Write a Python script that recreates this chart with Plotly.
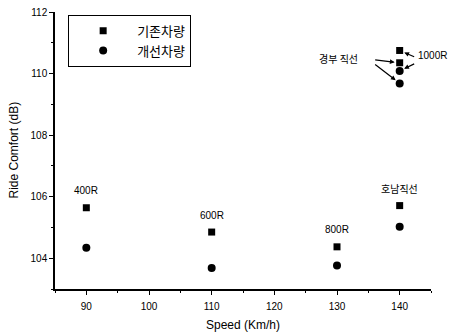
import plotly.graph_objects as go

speed = [90, 110, 130, 140, 140]
existing = [105.64, 104.85, 104.37, 105.71, 110.75]
improved = [104.34, 103.68, 103.76, 105.02, 110.08]
extra_existing = [110.35]
extra_improved = [109.68]

labels = ["400R", "600R", "800R", "호남직선"]
label_x = [90, 110, 130, 140]
label_y = [105.64, 104.85, 104.37, 105.71]

legend_names = ["기존차량", "개선차량"]

x_ticks = [90, 100, 110, 120, 130, 140]
y_ticks = [104, 106, 108, 110, 112]

kfont = "Noto Sans CJK KR"
afont = "Liberation Sans, Arial, sans-serif"

fig = go.Figure()
fig.add_trace(go.Scatter(x=speed + [140], y=existing + extra_existing, mode="markers",
                         name=legend_names[0],
                         marker=dict(symbol="square", size=7, color="black")))
fig.add_trace(go.Scatter(x=speed + [140], y=improved + extra_improved, mode="markers",
                         name=legend_names[1],
                         marker=dict(symbol="circle", size=8, color="black")))

ann = []
for t, xx, yy in zip(labels, label_x, label_y):
    ann.append(dict(x=xx, y=yy, text=t, showarrow=False, yshift=17,
                    font=dict(family=kfont if not t.endswith("R") else afont,
                              size=10, color="black")))

# 경부 직선 label and arrows
ann.append(dict(x=140, y=110.35, xref="x", yref="y", text="경부 직선", showarrow=False,
                xshift=-61, yshift=4, font=dict(family=kfont, size=10, color="black")))
ann.append(dict(x=140, y=extra_existing[0], ax=-26, ay=-3, text="", showarrow=True,
                arrowhead=2, arrowsize=0.8, arrowwidth=1.2, standoff=5, arrowcolor="black"))
ann.append(dict(x=140, y=extra_improved[0], ax=-26, ay=-20, text="", showarrow=True,
                arrowhead=2, arrowsize=0.8, arrowwidth=1.2, standoff=5, arrowcolor="black"))
# 1000R label and arrows
ann.append(dict(x=140, y=110.55, xref="x", yref="y", text="1000R", showarrow=False,
                xshift=33, yshift=1, font=dict(family=afont, size=10, color="black")))
ann.append(dict(x=140, y=existing[4], ax=16, ay=7, text="", showarrow=True,
                arrowhead=2, arrowsize=0.8, arrowwidth=1.2, standoff=5, arrowcolor="black"))
ann.append(dict(x=140, y=improved[4], ax=16, ay=-8, text="", showarrow=True,
                arrowhead=2, arrowsize=0.8, arrowwidth=1.2, standoff=5, arrowcolor="black"))

# axis titles
ann.append(dict(x=0.5, y=0, xref="paper", yref="paper", yanchor="middle",
                text="Speed (Km/h)", showarrow=False, yshift=-36,
                font=dict(family=afont, size=12, color="black")))
ann.append(dict(x=0, y=0.5, xref="paper", yref="paper", xanchor="center",
                text="Ride Comfort (dB)", showarrow=False, xshift=-42, textangle=-90,
                font=dict(family=afont, size=12, color="black")))

fig.update_layout(
    width=450, height=336,
    margin=dict(l=55, r=19, t=12, b=47, autoexpand=False),
    plot_bgcolor="white", paper_bgcolor="white",
    font=dict(family=afont, color="black"),
    annotations=ann,
    legend=dict(x=0.035, y=0.99, xanchor="left", yanchor="top",
                bordercolor="black", borderwidth=1, bgcolor="white",
                font=dict(family=kfont, size=13), itemwidth=58,
                tracegroupgap=0),
    showlegend=True,
)
fig.update_xaxes(range=[85, 145], tickvals=x_ticks, showgrid=False, zeroline=False,
                 showline=True, linecolor="black", linewidth=1.5, automargin=False,
                 ticks="outside", ticklen=4, tickcolor="black", ticklabelstandoff=3,
                 minor=dict(dtick=5, tick0=85, ticks="outside", ticklen=2, tickcolor="black"),
                 tickfont=dict(size=10, family=afont))
fig.update_yaxes(range=[103, 112], tickvals=y_ticks, showgrid=False, zeroline=False,
                 showline=True, linecolor="black", linewidth=1.5, automargin=False,
                 ticks="outside", ticklen=4, tickcolor="black",
                 minor=dict(dtick=1, tick0=103, ticks="outside", ticklen=2, tickcolor="black"),
                 tickfont=dict(size=10, family=afont))
fig.write_html("out.html")
